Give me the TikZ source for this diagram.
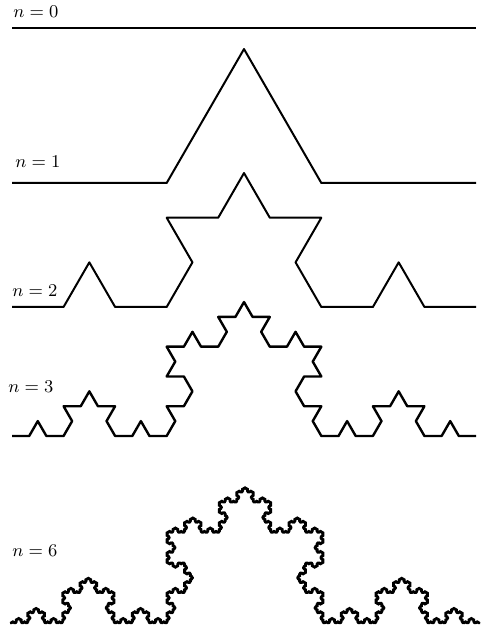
\documentclass[tikz,border=0pt]{standalone}
\usetikzlibrary{lindenmayersystems}

\pgfdeclarelindenmayersystem{Koch curve}{
  \rule{F -> F+F--F+F}
}

\begin{document}
\begin{tikzpicture}[x=0.5pt, y=0.5pt, font=\fontsize{8.6}{10}\selectfont,
    koch/.style={line width=#1, line join=round},
    koch/.default=1pt,
    lbl/.style={anchor=base west, inner sep=0pt}]
  \useasboundingbox (0,0) rectangle (489,631);

  % the five stages, base lines from the top down
  \coordinate (S0) at (12,603);
  \coordinate (E0) at (476,603);
  \coordinate (S1) at (12,448);
  \coordinate (S2) at (12,324);
  \coordinate (S3) at (12,195);
  \coordinate (S6) at (10,8);

  % n = 0, a plain segment
  \draw[koch] (S0) -- (E0);

  % n = 1, 2, 3 and 6
  \draw[koch, shift={(S1)}, lindenmayer system={Koch curve, axiom=F,
        order=1, step=77.333pt, angle=60}] lindenmayer system;
  \draw[koch, shift={(S2)}, lindenmayer system={Koch curve, axiom=F,
        order=2, step=25.778pt, angle=60}] lindenmayer system;
  \draw[koch=1.2pt, shift={(S3)}, lindenmayer system={Koch curve, axiom=F,
        order=3, step=8.5926pt, angle=60}] lindenmayer system;
  \draw[koch=1.1pt, shift={(S6)}, lindenmayer system={Koch curve, axiom=F,
        order=6, step=0.3224pt, angle=60}] lindenmayer system;

  % labels
  \node[lbl] (l0) at (13,613) {$n=0$};
  \node[lbl] (l1) at (15,463) {$n=1$};
  \node[lbl] (l2) at (12,334) {$n=2$};
  \node[lbl] (l3) at (8,238)  {$n=3$};
  \node[lbl] (l6) at (12,74)  {$n=6$};
\end{tikzpicture}
\end{document}
